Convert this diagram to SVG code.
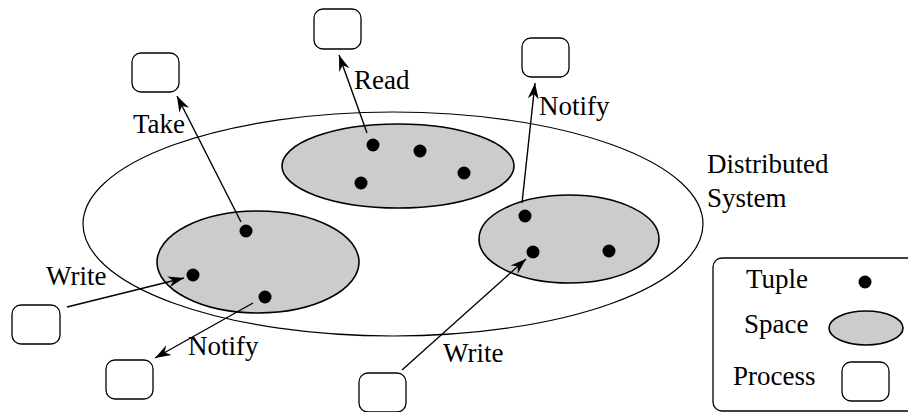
<svg xmlns="http://www.w3.org/2000/svg" width="908" height="412" viewBox="0 0 908 412">
<style>
.proc{fill:#fff;stroke:#000;stroke-width:1.3}
.space{fill:#cccccc;stroke:#000;stroke-width:1.6}
.sys{fill:none;stroke:#000;stroke-width:1.2}
.dot{fill:#000}
.lbl{font-family:"Liberation Serif","Times New Roman",serif;font-size:27px;fill:#000}
.conn line{stroke:#000;stroke-width:1.4;marker-end:url(#ah)}
</style>
<defs>
<marker id="ah" viewBox="-16 -6 17 12" refX="0" refY="0" markerWidth="17" markerHeight="12" markerUnits="userSpaceOnUse" orient="auto">
<path d="M0,0 L-16,-5.5 L-11,0 L-16,5.5 Z" fill="#000"/>
</marker>
</defs>
<rect width="908" height="412" fill="#fff"/>
<g id="system">
<ellipse class="sys" cx="393" cy="224" rx="310" ry="112"/>
<text class="lbl" x="707" y="173">Distributed</text>
<text class="lbl" x="707" y="207">System</text>
</g>
<g id="space-left">
<ellipse class="space" cx="258" cy="262" rx="101" ry="51"/>
<circle class="dot" cx="246" cy="231" r="6.5"/>
<circle class="dot" cx="193" cy="275" r="6.5"/>
<circle class="dot" cx="265" cy="297" r="6.5"/>
</g>
<g id="space-top">
<ellipse class="space" cx="398" cy="166" rx="116" ry="42"/>
<circle class="dot" cx="373" cy="145" r="6.5"/>
<circle class="dot" cx="420" cy="151" r="6.5"/>
<circle class="dot" cx="361" cy="183" r="6.5"/>
<circle class="dot" cx="464" cy="173" r="6.5"/>
</g>
<g id="space-right">
<ellipse class="space" cx="569" cy="239" rx="90" ry="44"/>
<circle class="dot" cx="525" cy="216" r="6.5"/>
<circle class="dot" cx="533" cy="252" r="6.5"/>
<circle class="dot" cx="609" cy="251" r="6.5"/>
</g>
<g id="proc-take"><rect class="proc" x="132" y="53" width="47" height="39" rx="9"/></g>
<g id="proc-read"><rect class="proc" x="314" y="9" width="47" height="40" rx="9"/></g>
<g id="proc-notify-top"><rect class="proc" x="522" y="38" width="47" height="39" rx="9"/></g>
<g id="proc-write-left"><rect class="proc" x="12" y="305" width="48" height="39" rx="9"/></g>
<g id="proc-notify-bottom"><rect class="proc" x="106" y="360" width="47" height="39" rx="9"/></g>
<g id="proc-write-bottom"><rect class="proc" x="359" y="373" width="47" height="39" rx="9"/></g>
<g class="conn" id="connectors">
<line x1="241" y1="222" x2="177" y2="96"/>
<line x1="367" y1="133" x2="339" y2="55"/>
<line x1="522" y1="203" x2="535" y2="83"/>
<line x1="67" y1="307" x2="184" y2="278"/>
<line x1="253" y1="303" x2="155" y2="358"/>
<line x1="402" y1="370" x2="526" y2="259"/>
</g>
<g id="labels">
<text class="lbl" x="133" y="133">Take</text>
<text class="lbl" x="354" y="89">Read</text>
<text class="lbl" x="539" y="115">Notify</text>
<text class="lbl" x="46" y="285">Write</text>
<text class="lbl" x="188" y="355">Notify</text>
<text class="lbl" x="443" y="362">Write</text>
</g>
<g id="legend">
<rect x="713" y="258" width="210" height="153" rx="9" fill="#fff" stroke="#000" stroke-width="1.3"/>
<text class="lbl" x="746" y="288">Tuple</text>
<circle class="dot" cx="865" cy="282" r="6.5"/>
<text class="lbl" x="744" y="333">Space</text>
<ellipse class="space" cx="866" cy="328" rx="37" ry="17" stroke-width="1.3"/>
<text class="lbl" x="733" y="385">Process</text>
<rect class="proc" x="842" y="362" width="47" height="39" rx="9"/>
</g>
</svg>
